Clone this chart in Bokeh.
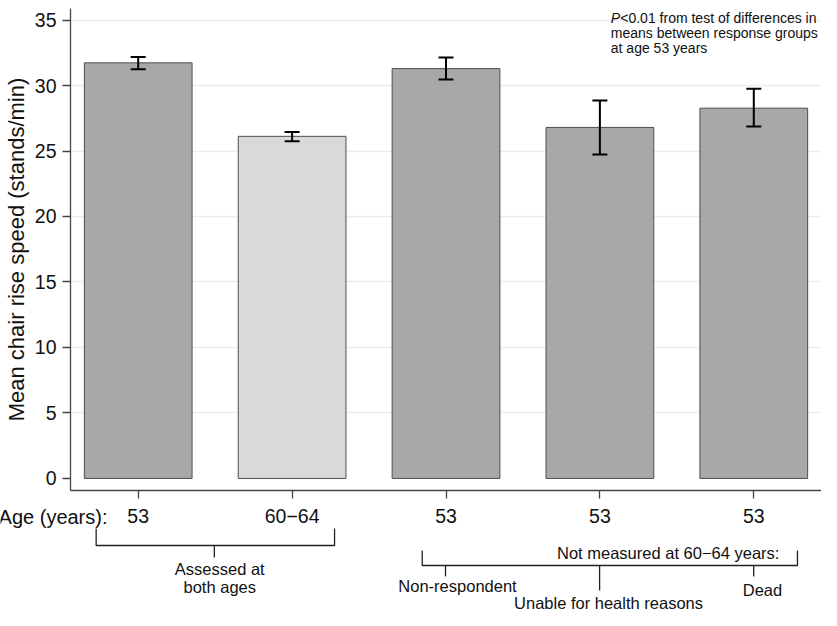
from bokeh.plotting import figure
from bokeh.models import Range1d, FixedTicker, Whisker, ColumnDataSource, Label, TeeHead
from bokeh.layouts import column
from bokeh.embed import file_html
from bokeh.resources import INLINE
from bokeh.core.properties import value

# ---- data ----
groups = ["Assessed at both ages (53)", "Assessed at both ages (60-64)",
          "Non-respondent", "Unable for health reasons", "Dead"]
age_labels = ["53", "60\u221264", "53", "53", "53"]
means = [31.73, 26.12, 31.29, 26.80, 28.27]
ci_lower = [31.24, 25.74, 30.46, 24.73, 26.87]
ci_upper = [32.18, 26.46, 32.14, 28.85, 29.75]
bar_colors = ["#a8a8a8", "#d9d9d9", "#a8a8a8", "#a8a8a8", "#a8a8a8"]
positions = [1, 2, 3, 4, 5]
y_ticks = [0, 5, 10, 15, 20, 25, 30, 35]

FONT = "Liberation Sans"
TXT = "#111111"

# ---- layout constants ----
W = 821
LEFT = 69
MAIN_H = 532
X0, X1 = 0.56, 5.44
K = (W - LEFT) / (X1 - X0)          # px per category unit
XB0 = X0 - LEFT / K                 # bracket panel range start (full width frame)

src = ColumnDataSource(dict(x=positions, top=means, lower=ci_lower, upper=ci_upper,
                            color=bar_colors, group=groups))

p = figure(width=W, height=MAIN_H, output_backend="svg", toolbar_location=None,
           x_range=Range1d(X0, X1), y_range=Range1d(-0.92, 35.88),
           min_border_left=LEFT, min_border_right=0, min_border_top=8, min_border_bottom=42)
p.outline_line_color = None
p.background_fill_color = "white"
p.border_fill_color = "white"
p.xgrid.visible = False
p.ygrid.ticker = FixedTicker(ticks=y_ticks[1:])
p.ygrid.grid_line_color = "#ececec"
p.ygrid.grid_line_width = 1.5

p.vbar(x="x", top="top", bottom=0, width=0.7, source=src, fill_color="color",
       line_color="#4d4d4d", line_width=1)

wh = Whisker(base="x", lower="lower", upper="upper", source=src, level="overlay",
             line_color="black", line_width=2,
             upper_head=TeeHead(size=15, line_width=2, line_color="black"),
             lower_head=TeeHead(size=15, line_width=2, line_color="black"))
p.add_layout(wh)

for ax in (p.xaxis[0], p.yaxis[0]):
    ax.axis_line_color = "#444444"
    ax.axis_line_width = 1.3
    ax.major_tick_line_color = "#444444"
    ax.major_tick_line_width = 1.3
    ax.major_tick_in = 0
    ax.major_tick_out = 8
    ax.minor_tick_line_color = None
    ax.major_label_text_font = FONT
    ax.major_label_text_font_size = "19.5px"
    ax.major_label_text_color = TXT

p.yaxis.ticker = FixedTicker(ticks=y_ticks)
p.yaxis.major_label_standoff = 6
p.yaxis.axis_label = "Mean chair rise speed (stands/min)"
p.yaxis.axis_label_text_font = FONT
p.yaxis.axis_label_text_font_size = "22px"
p.yaxis.axis_label_text_font_style = "normal"
p.yaxis.axis_label_text_color = TXT
p.yaxis.axis_label_standoff = 3

p.xaxis.ticker = FixedTicker(ticks=positions)
p.xaxis.major_label_overrides = {pos: lbl for pos, lbl in zip(positions, age_labels)}
p.xaxis.major_label_standoff = 10

# top-right note
note_x = X0 + (610 - LEFT) / K
note_ys = [35.12, 33.98, 32.84]
p.add_layout(Label(x=note_x, y=note_ys[0], text="P", text_font_style="italic",
                   text_baseline="middle", text_font=FONT,
                   text_font_size="14px", text_color=TXT))
p.add_layout(Label(x=note_x + 9.5 / K, y=note_ys[0], text="<0.01 from test of differences in",
                   text_baseline="middle", text_font=FONT,
                   text_font_size="14px", text_color=TXT))
p.add_layout(Label(x=note_x, y=note_ys[1], text="means between response groups",
                   text_baseline="middle", text_font=FONT,
                   text_font_size="14px", text_color=TXT))
p.add_layout(Label(x=note_x, y=note_ys[2], text="at age 53 years",
                   text_baseline="middle", text_font=FONT,
                   text_font_size="14px", text_color=TXT))

# ---- bracket panel (overlaps the axis-label strip, transparent) ----
b = figure(width=W, height=110, output_backend="svg", toolbar_location=None,
           x_range=Range1d(XB0, X1), y_range=Range1d(610, 500),
           x_axis_location=None, y_axis_location=None,
           min_border_left=0, min_border_right=0, min_border_top=0, min_border_bottom=0)
if "frame_align" in b.properties():
    b.frame_align = False
b.grid.visible = False
b.outline_line_color = None
b.background_fill_color = None
b.border_fill_color = None
b.margin = (500 - MAIN_H, 0, 0, 0)

b.text(x=[X0 + (107 - LEFT) / K], y=[516], text=["Age (years):"],
       text_align="right", text_baseline="middle", text_font=value(FONT),
       text_font_size="20px", text_color=TXT)

g1_left, g1_right = positions[0] - 0.267, positions[1] + 0.28
g1_mid = (positions[0] + positions[1]) / 2
g2_left, g2_right = positions[2] - 0.151, positions[4] + 0.284

xs = [[g1_left, g1_left, g1_right, g1_right], [g1_mid, g1_mid],
      [g2_left, g2_left, g2_right, g2_right],
      [positions[2], positions[2]], [positions[3], positions[3]], [positions[4], positions[4]]]
ys = [[528, 545, 545, 528], [545, 557],
      [550, 565, 565, 550],
      [565, 576], [565, 590], [565, 576]]
b.multi_line(xs=xs, ys=ys, line_color="#222222", line_width=1.3)

b.text(x=[g1_mid + 0.035, g1_mid + 0.035], y=[568, 586], text=["Assessed at", "both ages"],
       text_align="center", text_baseline="middle", text_font=value(FONT),
       text_font_size="16.5px", text_color=TXT)
b.text(x=[positions[4] + 0.167], y=[552], text=["Not measured at 60\u221264 years:"],
       text_align="right", text_baseline="middle", text_font=value(FONT),
       text_font_size="16.5px", text_color=TXT)
b.text(x=[positions[2] + 0.078, positions[3] + 0.058, positions[4] + 0.057], y=[585, 602, 589],
       text=[groups[2], groups[3], groups[4]],
       text_align="center", text_baseline="middle", text_font=value(FONT),
       text_font_size="16.5px", text_color=TXT)

layout = column(p, b, spacing=0)
open("out.html", "w").write(file_html(layout, INLINE))
